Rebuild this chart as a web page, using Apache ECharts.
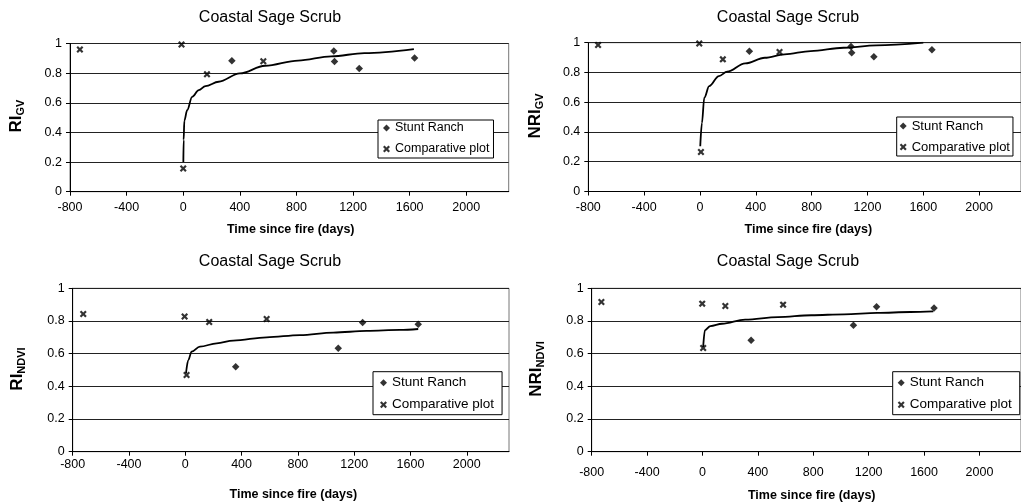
<!DOCTYPE html>
<html>
<head>
<meta charset="utf-8">
<script src="https://cdn.jsdelivr.net/npm/echarts@6/dist/echarts.min.js"></script>
<style>
html,body{margin:0;padding:0;background:#fff;}
#c{width:1021px;height:503px;}
</style>
</head>
<body>
<div id="c"></div>
<script>
// ---- data ----
const panelTitle = 'Coastal Sage Scrub';
const xAxisTitle = 'Time since fire (days)';
const seriesNames = ['Stunt Ranch', 'Comparative plot'];
const xTicks = { min: -800, max: 2300, step: 400 };
const yTicks = { min: 0, max: 1, step: 0.2 };

// Panel 1: RI_GV
const stunt1 = [[344,0.883],[1064,0.95],[1069,0.879],[1244,0.831],[1635,0.903]];
const comp1  = [[-730,0.96],[-12,0.993],[0,0.157],[168,0.793],[566,0.88]];
const fit1   = [[1,0.2],[3,0.35],[8,0.48],[28,0.55],[63,0.64],[110,0.685],[157,0.712],[250,0.742],[400,0.798],[578,0.85],[812,0.885],[1046,0.913],[1280,0.935],[1630,0.962]];

// Panel 2: NRI_GV
const stunt2 = [[354,0.942],[1082,0.975],[1087,0.933],[1246,0.906],[1662,0.953]];
const comp2  = [[-730,0.985],[-5,0.995],[7,0.266],[164,0.888],[570,0.937]];
const fit2   = [[2,0.304],[14,0.461],[31,0.63],[66,0.708],[136,0.776],[195,0.805],[324,0.861],[465,0.899],[606,0.922],[793,0.944],[1028,0.966],[1263,0.982],[1600,1.0]];

// Panel 3: RI_NDVI
const stunt3 = [[358,0.52],[1087,0.633],[1260,0.79],[1655,0.78]];
const comp3  = [[-725,0.843],[-5,0.827],[9,0.469],[170,0.794],[578,0.812]];
const fit3   = [[5,0.48],[21,0.561],[45,0.612],[104,0.643],[223,0.663],[341,0.68],[578,0.70],[815,0.714],[1052,0.729],[1288,0.739],[1525,0.745],[1655,0.751]];

// Panel 4: NRI_NDVI
const stunt4 = [[351,0.682],[1090,0.774],[1257,0.887],[1672,0.879]];
const comp4  = [[-730,0.916],[-2,0.906],[5,0.635],[165,0.892],[582,0.90]];
const fit4   = [[5,0.641],[17,0.743],[57,0.769],[141,0.783],[308,0.808],[546,0.824],[785,0.835],[1023,0.841],[1262,0.849],[1500,0.855],[1667,0.859]];

const yNames = [['RI','GV'],['NRI','GV'],['RI','NDVI'],['NRI','NDVI']];

// ---- layout ----
const FONT = 'Liberation Sans, Arial, sans-serif';
const grids = [
  {left:70,   top:43.5,  width:438.7, height:148.2},
  {left:588.3,top:42.7,  width:439.2, height:148.8},
  {left:72.7, top:288.3, width:436.3, height:163.4},
  {left:591.7,top:288.3, width:435.5, height:163.4}
];
const xLabelMargin = [9, 10, 6, 14];
const titlePos = [[270,17.5],[788,17.5],[270,262],[788,262]];
const xNamePos = [[290.7,230],[808.3,230],[293.3,495],[811.7,496]];
const yNamePos = [[16,116],[535.5,116],[17.5,369],[536.5,369]];
const legendPos = [
  {left:378,   top:120,   fs:12.5, gap:7, pad:[1,4,2,5]},
  {left:896.7, top:117,   fs:13,   gap:7, pad:[2,3,2,3]},
  {left:373,   top:371.7, fs:13.5, gap:8, pad:[4,8,3,7]},
  {left:892.7, top:371.7, fs:13.5, gap:8, pad:[4,8,3,5]}
];

const xMark = 'path://M0,2.2L2.2,0L5,2.8L7.8,0L10,2.2L7.2,5L10,7.8L7.8,10L5,7.2L2.2,10L0,7.8L2.8,5Z';
const panels = [[stunt1,comp1,fit1],[stunt2,comp2,fit2],[stunt3,comp3,fit3],[stunt4,comp4,fit4]];

const option = {
  animation:false,
  backgroundColor:'#fff',
  grid: grids.map(g => Object.assign({show:true, borderColor:'#777', borderWidth:1, backgroundColor:'transparent'}, g)),
  xAxis: grids.map((g,i) => ({
    gridIndex:i, type:'value', min:xTicks.min, max:xTicks.max, interval:xTicks.step,
    axisLine:{onZero:false, lineStyle:{color:'#000', width:1}},
    axisTick:{show:true, inside:false, length:4, lineStyle:{color:'#000'}},
    axisLabel:{margin:xLabelMargin[i], color:'#000', fontSize:12.5, fontFamily:FONT,
      formatter:v => (Math.abs(v % xTicks.step) < 1e-6 ? String(v) : ''), showMaxLabel:false},
    splitLine:{show:false}
  })),
  yAxis: grids.map((g,i) => ({
    gridIndex:i, type:'value', min:yTicks.min, max:yTicks.max, interval:yTicks.step,
    axisLine:{show:true, onZero:false, lineStyle:{color:'#000', width:1}},
    axisTick:{show:true, inside:false, length:4, lineStyle:{color:'#000'}},
    axisLabel:{margin:8, color:'#000', fontSize:12.5, fontFamily:FONT,
      formatter:v => String(Math.round(v*10)/10)},
    splitLine:{show:true, lineStyle:{color:'#222', width:1}}
  })),
  legend: legendPos.map((L,i) => ({
    left:L.left, top:L.top, orient:'vertical', padding:L.pad, itemGap:L.gap,
    itemWidth:7, itemHeight:7, selectedMode:false,
    backgroundColor:'#fff', borderColor:'#000', borderWidth:1, borderRadius:0,
    textStyle:{color:'#000', fontSize:L.fs, fontFamily:FONT, lineHeight:14},
    data:[{name:seriesNames[0], icon:'diamond'},{name:seriesNames[1], icon:xMark}],
    z:10
  })),
  series: [],
  graphic: []
};

panels.forEach((p,i) => {
  option.series.push({
    name:seriesNames[0], type:'scatter', xAxisIndex:i, yAxisIndex:i, data:p[0],
    symbol:'diamond', symbolSize:7.5, itemStyle:{color:'#000'}, z:3
  });
  option.series.push({
    name:seriesNames[1], type:'scatter', xAxisIndex:i, yAxisIndex:i, data:p[1],
    symbol:xMark, symbolSize:7, itemStyle:{color:'#000'}, z:3
  });
  option.series.push({
    name:'fit'+i, type:'line', xAxisIndex:i, yAxisIndex:i, data:p[2],
    showSymbol:false, symbol:'none', smooth:0.35, smoothMonotone:'x',
    lineStyle:{color:'#000', width:1.8}, silent:true, z:2
  });
  option.graphic.push({
    type:'text', x:titlePos[i][0], y:titlePos[i][1],
    style:{text:panelTitle, fill:'#000', font:'16px ' + FONT, align:'center', verticalAlign:'middle'}
  });
  option.graphic.push({
    type:'text', x:xNamePos[i][0], y:xNamePos[i][1],
    style:{text:xAxisTitle, fill:'#000', font:'bold 12.5px ' + FONT, align:'center', verticalAlign:'middle'}
  });
  option.graphic.push({
    type:'text', x:yNamePos[i][0], y:yNamePos[i][1], rotation:Math.PI/2,
    style:{
      text:'{a|' + yNames[i][0] + '}{b|' + yNames[i][1] + '}',
      align:'center', verticalAlign:'middle',
      rich:{
        a:{fontSize:17, fontWeight:'bold', fontFamily:FONT, fill:'#000', lineHeight:20},
        b:{fontSize:11, fontWeight:'bold', fontFamily:FONT, fill:'#000', lineHeight:14, verticalAlign:'bottom'}
      }
    }
  });
});

const chart = echarts.init(document.getElementById('c'), null, {renderer:'canvas'});
chart.setOption(option);
</script>
</body>
</html>
